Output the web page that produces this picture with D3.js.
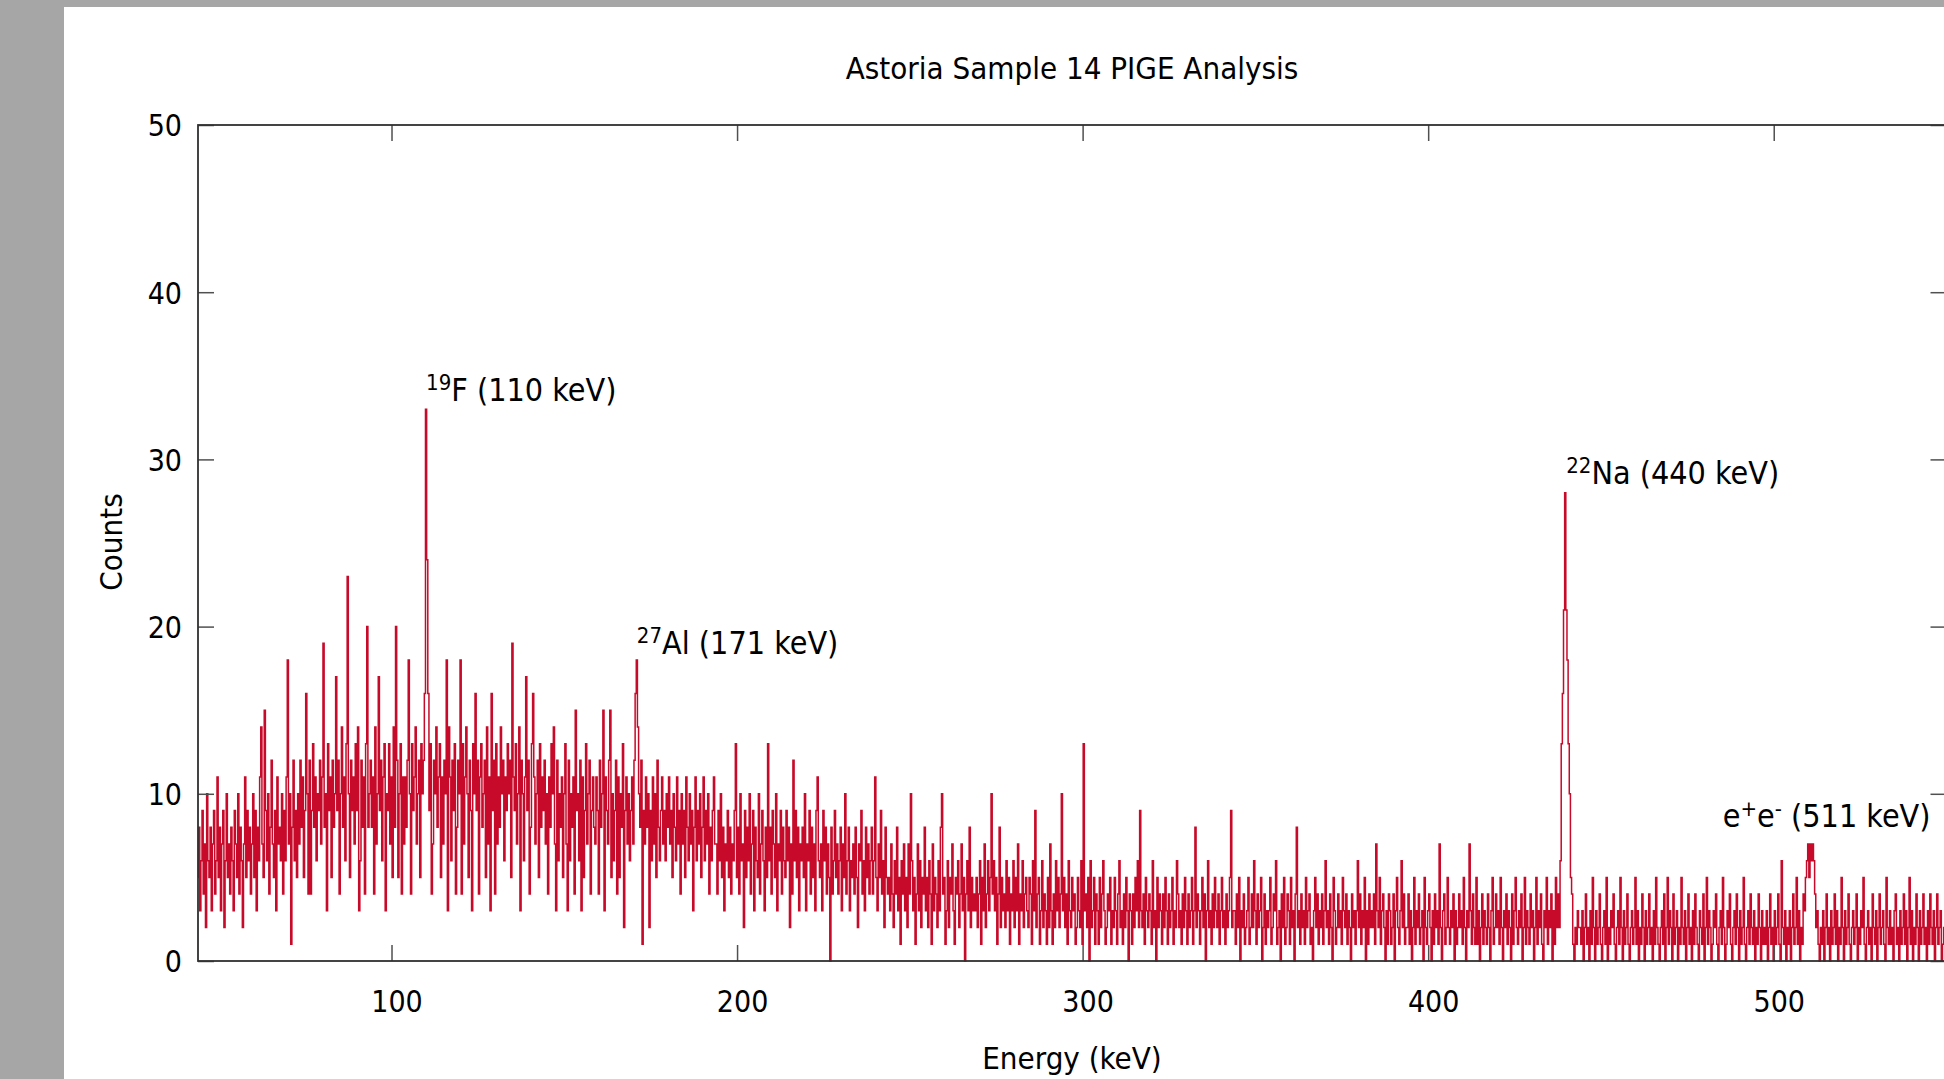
<!DOCTYPE html>
<html>
<head>
<meta charset="utf-8">
<script src="https://cdn.jsdelivr.net/npm/d3@7"></script>
<style>
  html, body { margin: 0; padding: 0; background: #a6a6a6; overflow: hidden; }
  svg { display: block; }
  text { font-family: 'DejaVu Sans Condensed', 'DejaVu Sans', sans-serif; font-stretch: condensed; fill: #000; }
</style>
</head>
<body>
<svg id="chart" width="1944" height="1079"></svg>
<script>
// ---- Data (counts per 1/3 keV channel) ----
const chartTitle = "Astoria Sample 14 PIGE Analysis";
const xLabel = "Energy (keV)";
const yLabel = "Counts";
const startEnergy = 44;        // keV of first channel
const channelsPerKeV = 3;      // calibration
const xTicks = [100, 200, 300, 400, 500];
const yTicks = [0, 10, 20, 30, 40, 50];

const seg044 = [
  5,8,3,6,9,4,7,2,10,6,5,8,3,7,9,
  4,6,11,5,8,3,7,9,2,6,10,5,7,4,8,
  6,3,9,7,5,10,4,8,6,2,7,11,5,9,6,
  8,4,7,10,5,9,3,8,6,11,14,7,5,15,9,
  6,10,4,8,12,7,5,9,3,11,7,8,6,10,4,
  9,6,11,18,7,10,1,8,12,6,9,5,10,7,12,
  8,11,5,9,16,10,4,12,4,9,13,8,11,6,10,
  9,12,7,11,19,8,10,3,13,9,11,5,12,8,10,
  17,9,12,4,10,14,8,11,6,13,23,10,5,12,9,
  11,7,13,9,14,3,6,12,8,11,4,13,20,8,10];
const seg094 = [
  12,8,11,4,14,7,10,17,9,12,6,11,13,3,10,
  9,13,7,11,5,14,8,20,12,5,10,13,4,11,7,
  11,8,12,18,10,4,13,9,11,14,7,10,12,5,13,
  10,12,16,33,24,16,9,13,4,7,12,10,14,8,11,
  13,5,11,7,12,10,18,3,14,11,6,12,9,13,4,
  8,12,10,18,4,13,7,11,14,10,5,12,9,3,13,
  10,16,9,12,4,11,13,8,10,12,5,14,7,11,3,
  16,9,12,4,13,7,11,8,14,10,12,6,11,9,13,
  10,12,5,19,11,9,13,7,10,14,3,12,10,6,11,
  17,9,12,4,8,13,16,11,7,10,12,5,13,8,11];
const seg144 = [
  9,12,7,10,4,11,8,13,10,14,7,3,12,6,10,
  8,11,5,10,13,7,3,12,6,10,8,11,4,15,9,
  10,6,12,3,11,5,9,13,7,10,12,4,9,11,8,
  7,11,9,4,12,8,10,15,3,11,9,7,12,15,5,
  10,6,9,12,4,11,5,10,8,13,2,9,11,7,10,
  6,9,11,7,12,16,18,14,10,8,12,1,9,7,11,
  8,10,2,9,6,11,7,10,5,12,8,6,9,11,7,
  9,6,10,8,11,7,9,5,10,8,6,11,7,9,4,
  10,7,9,5,11,8,6,10,7,9,3,8,11,6,9,
  7,10,5,8,11,6,9,7,10,4,8,6,9,11,7];
const seg194 = [
  7,4,9,6,10,5,8,3,7,6,9,5,8,4,7,
  6,9,13,5,8,4,10,6,7,2,9,5,8,6,10,
  4,7,9,3,8,6,5,10,4,7,9,6,3,8,5,
  13,6,8,4,9,7,5,10,3,7,6,9,4,8,6,
  5,9,6,8,2,7,4,12,6,9,5,8,3,7,6,
  8,5,10,3,7,6,9,4,8,5,7,3,9,11,6,
  5,7,3,9,6,8,4,7,5,0,8,4,6,9,5,
  7,4,6,8,3,7,5,10,4,6,8,3,6,5,7,
  4,8,5,2,7,6,9,4,6,3,8,5,7,4,6,
  8,4,6,11,5,3,7,5,9,4,6,2,8,5,4];
const seg244 = [
  5,3,7,4,2,6,4,8,3,5,1,6,4,7,3,
  5,2,7,4,10,6,3,5,1,4,7,3,6,2,5,
  4,8,3,5,2,6,4,1,7,3,5,4,2,6,3,
  8,10,4,5,1,3,6,2,5,4,7,3,1,5,4,
  6,2,4,7,3,5,0,4,6,3,8,2,5,3,4,
  3,5,2,4,6,1,5,3,7,2,4,6,3,5,10,
  4,6,3,5,1,4,8,2,5,3,4,2,6,3,5,
  1,4,3,6,2,5,3,7,1,4,3,6,2,4,5,
  3,2,5,4,1,6,3,9,2,4,5,1,3,6,2,
  4,3,1,5,2,7,3,1,4,2,6,3,5,2,4];
const seg294 = [
  10,3,5,2,4,1,6,3,2,5,3,4,1,2,5,
  3,2,6,1,13,3,4,2,5,0,6,2,3,5,1,
  4,3,1,5,2,4,6,3,1,2,4,3,5,1,3,
  2,5,3,1,4,6,2,3,1,4,2,5,3,0,4,
  3,1,4,2,5,3,6,2,9,3,2,4,1,5,3,
  2,4,3,1,6,2,3,0,5,2,4,3,1,4,2,
  5,3,1,4,2,3,5,1,3,2,6,4,2,3,1,
  4,2,5,3,1,4,2,3,5,1,3,8,2,4,3,
  1,3,5,2,4,0,3,6,2,3,1,4,2,5,3,
  2,4,1,3,5,2,3,1,4,2,3,5,9,2,3];
const seg344 = [
  3,1,4,2,5,0,3,2,4,1,2,3,5,1,2,
  4,2,6,3,1,4,2,3,5,0,2,4,1,3,2,
  3,5,1,2,4,3,6,1,2,3,0,4,2,5,1,
  2,4,3,1,5,2,3,0,4,8,2,3,1,4,2,
  3,1,5,2,3,4,1,2,0,3,5,2,4,1,3,
  2,4,1,3,6,2,3,1,4,2,0,5,3,1,2,
  4,2,3,1,5,3,2,4,1,3,2,0,4,2,3,
  1,3,6,2,4,1,3,2,5,0,3,1,4,2,3,
  2,4,1,7,3,2,5,1,3,4,2,0,3,1,4,
  3,1,2,4,0,3,5,2,1,3,6,2,4,1,2];
const seg394 = [
  2,4,1,3,0,2,5,1,3,2,4,1,2,3,0,
  5,2,1,3,4,2,0,3,1,4,2,3,1,7,2,
  0,3,4,1,2,5,2,1,3,2,4,0,3,1,2,
  4,2,3,1,5,2,0,3,2,7,3,1,4,2,1,
  5,1,3,0,2,4,1,3,2,1,4,2,0,3,5,
  1,2,4,2,3,1,5,2,0,3,2,4,1,3,2,
  0,4,1,3,5,2,1,3,2,4,0,2,5,1,3,
  2,1,4,2,3,0,2,5,1,3,2,4,1,0,3,
  2,5,1,3,2,4,0,3,1,5,2,4,2,6,13,
  16,21,28,21,18,13,10,5,4,1,0,2,1,3,2];
const seg444 = [
  2,1,3,0,2,4,1,2,0,3,1,5,2,0,3,
  1,2,4,1,0,2,3,1,5,0,2,1,3,2,4,
  1,0,2,3,1,5,2,0,3,1,2,4,1,0,2,
  3,1,2,5,1,3,0,2,1,4,2,0,3,1,2,
  4,1,2,0,3,1,5,2,1,0,2,3,1,4,0,
  2,5,1,3,2,0,4,1,2,3,0,2,1,5,2,
  1,3,0,2,4,1,2,0,3,1,4,2,1,0,3,
  2,1,4,0,2,5,1,3,2,0,1,3,2,4,1,
  0,2,3,1,5,2,0,1,3,2,4,1,0,2,3,
  1,4,2,0,3,1,2,5,1,0,2,3,1,4,2];
const seg494 = [
  1,3,0,2,1,4,2,0,3,1,2,1,3,0,2,
  4,1,2,0,3,1,2,4,1,0,6,2,1,3,0,
  2,1,3,0,2,4,1,2,5,1,3,0,2,1,4,
  3,5,6,7,5,7,6,7,6,4,2,3,1,0,2,
  1,3,0,2,4,1,2,0,3,1,2,4,1,3,0,
  2,1,5,2,0,3,1,2,4,1,0,2,3,1,2,
  4,0,2,1,3,2,5,1,0,2,3,1,2,0,4,
  2,1,3,0,2,4,1,2,3,1,0,5,2,1,3,
  1,2,0,3,4,1,2,0,3,1,2,4,1,3,0,
  2,5,1,3,0,2,1,4,2,0,3,1,2,4,1];
const seg544 = [2,0,3,1,4,2,1,3,0,2,4,1,2,3,0,1,2,4,1];

const annotations = [
  { sup: "19", text: "F (110 keV)", e: 110, c: 33 },
  { sup: "27", text: "Al (171 keV)", e: 171, c: 18 },
  { sup: "22", text: "Na (440 keV)", e: 439.67, c: 28 },
  { sup: null, text: "e", text2: " (511 keV)", e: 511, c: 7 }
];

// ---- Build ----
const counts = [].concat(seg044, seg094, seg144, seg194, seg244, seg294, seg344, seg394, seg444, seg494, seg544);
const spectrum = counts.map((c, i) => ({ e: startEnergy + i / channelsPerKeV, c: c }));

const W = 1944, H = 1079;
const plot = { left: 198, top: 125, right: 1946.5, bottom: 961 };

const svg = d3.select("#chart");
svg.append("rect").attr("x", 64).attr("y", 7).attr("width", W - 64).attr("height", H - 7).attr("fill", "#ffffff");

const x = d3.scaleLinear().domain([44, 550]).range([plot.left, plot.right]);
const y = d3.scaleLinear().domain([0, 50]).range([plot.bottom, plot.top]);

// spectrum (step line)
const line = d3.line().curve(d3.curveStep).x(d => x(d.e)).y(d => y(d.c));
svg.append("path").datum(spectrum)
  .attr("d", line)
  .attr("fill", "none")
  .attr("stroke", "#c70a29")
  .attr("stroke-width", 1.5)
  .attr("stroke-linejoin", "miter");

// axes (ticks inward, mirrored)
const tickLen = 16;
const axB = svg.append("g").attr("transform", `translate(0,${plot.bottom})`)
  .call(d3.axisBottom(x).tickValues(xTicks).tickSizeInner(-tickLen).tickSizeOuter(0).tickPadding(0));
const axT = svg.append("g").attr("transform", `translate(0,${plot.top})`)
  .call(d3.axisTop(x).tickValues(xTicks).tickSizeInner(-tickLen).tickSizeOuter(0).tickFormat(""));
const axL = svg.append("g").attr("transform", `translate(${plot.left},0)`)
  .call(d3.axisLeft(y).tickValues(yTicks).tickSizeInner(-tickLen).tickSizeOuter(0).tickPadding(0));
const axR = svg.append("g").attr("transform", `translate(${plot.right},0)`)
  .call(d3.axisRight(y).tickValues(yTicks).tickSizeInner(-tickLen).tickSizeOuter(0).tickFormat(""));

[axB, axT, axL, axR].forEach(g => {
  g.select(".domain").remove();
  g.selectAll(".tick line").attr("stroke", "#505050").attr("stroke-width", 1.5);
});
axB.selectAll(".tick text")
  .attr("y", 1012 - plot.bottom).attr("dy", null).attr("dx", 5)
  .attr("font-size", 30).attr("font-family", null).attr("fill", "#000");
axL.selectAll(".tick text")
  .attr("x", -16).attr("dy", "0.36em")
  .attr("font-size", 30).attr("font-family", null).attr("fill", "#000");

// border
svg.append("rect")
  .attr("x", plot.left).attr("y", plot.top)
  .attr("width", plot.right - plot.left).attr("height", plot.bottom - plot.top)
  .attr("fill", "none").attr("stroke", "#303030").attr("stroke-width", 1.8);

// title & axis labels
svg.append("text").attr("x", 1072).attr("y", 79).attr("text-anchor", "middle")
  .attr("font-size", 31).text(chartTitle);
svg.append("text").attr("x", 1072).attr("y", 1069).attr("text-anchor", "middle")
  .attr("font-size", 31).text(xLabel);
svg.append("text").attr("transform", "translate(122,542) rotate(-90)").attr("text-anchor", "middle")
  .attr("font-size", 31).text(yLabel);

// peak annotations (offsets relative to their peaks)
const annPos = [
  { dx: 0, dy: -8 },
  { dx: 0, dy: -6 },
  { dx: 1, dy: -9 },
  { dx: -89, dy: -17 }
];
annotations.forEach((a, i) => {
  const t = svg.append("text")
    .attr("x", x(a.e) + annPos[i].dx)
    .attr("y", y(a.c) + annPos[i].dy)
    .attr("font-size", 32);
  if (a.sup) {
    t.append("tspan").attr("font-size", 22).attr("dy", -11).text(a.sup);
    t.append("tspan").attr("dy", 11).text(a.text);
  } else {
    t.append("tspan").text("e");
    t.append("tspan").attr("font-size", 22).attr("dy", -11).text("+");
    t.append("tspan").attr("dy", 11).text("e");
    t.append("tspan").attr("font-size", 22).attr("dy", -11).text("-");
    t.append("tspan").attr("dy", 11).text(a.text2);
  }
});
</script>
</body>
</html>
